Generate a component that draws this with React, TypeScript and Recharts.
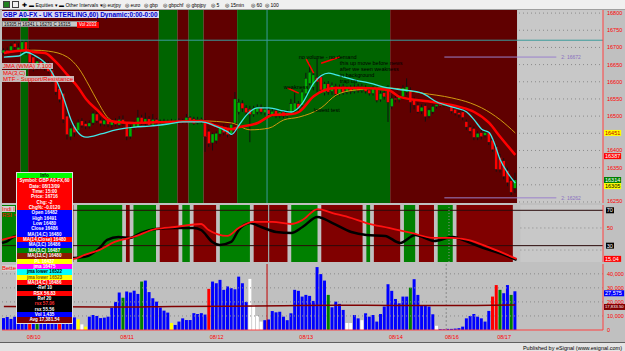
import React from 'react';
import { ComposedChart, Bar, Line, XAxis, YAxis, ReferenceArea, ReferenceLine, ReferenceDot, Cell } from 'recharts';

const FONT = "'Liberation Sans', Arial, sans-serif";
const SLOTS = 161; // 138 hourly bars + empty space on the right

// GBP A0-FX, 60 min bars, 08/10 - 08/17
const open = [
  16684, 16692, 16690, 16712, 16692, 16690, 16716, 16692, 16672, 16642,
  16660, 16640, 16654, 16634, 16610, 16580, 16566, 16500, 16440, 16470,
  16458, 16486, 16478, 16470, 16480, 16506, 16488, 16476, 16490, 16474,
  16486, 16474, 16490, 16478, 16440, 16466, 16470, 16496, 16478, 16492,
  16474, 16490, 16482, 16484, 16482, 16486, 16484, 16486, 16482, 16484,
  16496, 16492, 16480, 16490, 16484, 16456, 16422, 16428, 16448, 16468,
  16462, 16448, 16480, 16512, 16538, 16524, 16520, 16505, 16512, 16526,
  16510, 16518, 16504, 16516, 16500, 16512, 16500, 16510, 16514, 16536,
  16532, 16565, 16595, 16585, 16612, 16614, 16568, 16594, 16572, 16586,
  16566, 16586, 16570, 16582, 16572, 16586, 16574, 16584, 16576, 16566,
  16580, 16548, 16568, 16580, 16528, 16552, 16548, 16556, 16570, 16576,
  16548, 16532, 16514, 16530, 16500, 16512, 16528, 16534, 16530, 16532,
  16530, 16520, 16510, 16512, 16484, 16468, 16464, 16438, 16452, 16444,
  16452, 16430, 16410, 16380, 16370, 16342, 16312, 16290,
];
const high = [
  16698, 16700, 16712, 16718, 16712, 16721, 16722, 16698, 16680, 16668,
  16666, 16664, 16660, 16640, 16616, 16588, 16572, 16506, 16474, 16478,
  16490, 16494, 16486, 16488, 16514, 16512, 16496, 16496, 16498, 16492,
  16494, 16500, 16502, 16484, 16474, 16486, 16518, 16504, 16510, 16500,
  16506, 16494, 16490, 16492, 16490, 16492, 16490, 16494, 16492, 16506,
  16500, 16498, 16498, 16496, 16490, 16462, 16452, 16456, 16474, 16476,
  16470, 16484, 16570, 16550, 16546, 16532, 16530, 16530, 16534, 16534,
  16528, 16526, 16522, 16522, 16520, 16518, 16518, 16550, 16568, 16544,
  16578, 16626, 16654, 16632, 16668, 16622, 16600, 16602, 16598, 16594,
  16592, 16594, 16588, 16590, 16592, 16594, 16594, 16590, 16584, 16588,
  16586, 16574, 16578, 16590, 16560, 16560, 16564, 16590, 16610, 16584,
  16556, 16540, 16534, 16536, 16524, 16534, 16540, 16538, 16538, 16536,
  16534, 16526, 16516, 16518, 16490, 16474, 16470, 16456, 16460, 16460,
  16458, 16436, 16416, 16390, 16378, 16350, 16318, 16335,
];
const low = [
  16678, 16680, 16686, 16695, 16688, 16684, 16678, 16650, 16630, 16634,
  16636, 16632, 16624, 16596, 16562, 16540, 16480, 16432, 16430, 16440,
  16452, 16466, 16462, 16464, 16474, 16480, 16470, 16470, 16468, 16466,
  16470, 16468, 16472, 16430, 16434, 16460, 16464, 16474, 16470, 16468,
  16468, 16474, 16476, 16478, 16478, 16480, 16478, 16478, 16478, 16478,
  16480, 16474, 16476, 16478, 16396, 16410, 16400, 16420, 16440, 16444,
  16438, 16442, 16474, 16505, 16512, 16500, 16424, 16498, 16505, 16505,
  16502, 16500, 16498, 16494, 16494, 16494, 16494, 16504, 16508, 16514,
  16526, 16560, 16590, 16575, 16570, 16568, 16560, 16562, 16562, 16556,
  16560, 16562, 16564, 16564, 16566, 16568, 16568, 16566, 16560, 16560,
  16540, 16542, 16548, 16483, 16520, 16540, 16540, 16550, 16562, 16510,
  16520, 16508, 16506, 16484, 16494, 16506, 16522, 16526, 16526, 16526,
  16508, 16502, 16496, 16488, 16460, 16450, 16430, 16430, 16432, 16438,
  16416, 16396, 16338, 16336, 16316, 16296, 16270, 16276,
];
const close = [
  16692, 16686, 16704, 16701, 16700, 16716, 16684, 16656, 16636, 16660,
  16642, 16656, 16630, 16602, 16570, 16548, 16490, 16446, 16465, 16452,
  16482, 16472, 16470, 16480, 16508, 16486, 16478, 16488, 16476, 16486,
  16476, 16490, 16478, 16440, 16466, 16480, 16496, 16480, 16492, 16474,
  16490, 16480, 16484, 16482, 16486, 16484, 16486, 16482, 16488, 16496,
  16486, 16478, 16490, 16484, 16440, 16420, 16448, 16450, 16468, 16452,
  16446, 16476, 16550, 16540, 16522, 16510, 16505, 16522, 16526, 16512,
  16520, 16506, 16514, 16500, 16512, 16500, 16510, 16536, 16538, 16522,
  16570, 16610, 16628, 16620, 16600, 16576, 16594, 16570, 16590, 16564,
  16584, 16570, 16580, 16572, 16584, 16574, 16586, 16572, 16566, 16580,
  16546, 16566, 16556, 16540, 16552, 16548, 16556, 16582, 16585, 16540,
  16532, 16512, 16526, 16498, 16518, 16528, 16534, 16530, 16534, 16530,
  16514, 16508, 16504, 16496, 16468, 16456, 16438, 16450, 16440, 16452,
  16424, 16402, 16345, 16344, 16324, 16306, 16278, 16314,
];
const volume = [
  8500, 9300, 7900, 9500, 10000, 11000, 9000, 12000, 10000, 11000,
  9000, 10000, 12000, 9000, 11000, 13000, 10000, 9000, 8000, 9000,
  7600, 4000, 2400, 9500, 10700, 10000, 8500, 8800, 9500, 15700,
  20000, 26700, 23000, 27400, 26700, 28000, 25700, 34500, 35200, 27000,
  22600, 20200, 16000, 13800, 12400, 5000, 3600, 6000, 8300, 7100,
  7100, 12000, 11400, 12000, 11000, 29300, 34500, 33300, 35700, 28600,
  31000, 29800, 29000, 38000, 33300, 20000, 36400, 17800, 10000, 6000,
  7000, 7500, 13500, 12600, 13000, 9500, 7000, 11900, 28600, 27900,
  23800, 25000, 24300, 20700, 44800, 39800, 35200, 25000, 16200, 20200,
  18600, 14300, 5000, 5000, 10700, 8300, 7000, 11900, 9500, 10700,
  6000, 11400, 16700, 32600, 27900, 22100, 19000, 23800, 23800, 30200,
  36200, 25000, 17100, 17100, 16700, 11200, 3000, 600, 500, 800,
  800, 1000, 1300, 2400, 8300, 10000, 11400, 9500, 8300, 6000,
  13600, 23800, 32000, 28600, 26200, 32000, 25000, 27575,
];
// b blue, g green, r red, y yellow, w white
const volColorCodes = [
  'bbbbbbb', 'r', 'b', 'g', 'bbbbb', 'r', 'bbbb', 'ywy', 'bbbbbbbbb', 'g', 'bbbb', 'g',
  'bbbbbbb', 'y', 'bbbbbbbbb', 'r', 'bbbbbbbbbb', 'wwww', 'bbbbbbbbbbbbbbbbb', 'g', 'bbbb',
  'ww', 'bb', 'w', 'bbbbbbbbbbbb', 'g', 'bbbbbb', 'w', 'bbbbbbbbbbbbbb', 'rr', 'g', 'bb', 'g', 'b',
].join('');

// moving averages, read at points along the curves: [bar, value]
const fastPts = [
  [0, 16672], [4, 16675], [6, 16686], [8, 16678], [12, 16643], [14, 16605], [16, 16553], [18, 16489],
  [20, 16451], [22, 16439], [26, 16448], [30, 16460], [35, 16468], [39, 16471], [44, 16477], [48, 16483],
  [53, 16483], [56, 16474], [60, 16454], [61, 16447], [63, 16474], [65, 16503], [68, 16524], [71, 16524],
  [75, 16515], [77, 16512], [80, 16538], [83, 16596], [87, 16625], [89, 16620], [94, 16605], [98, 16596],
  [103, 16582], [107, 16576], [112, 16567], [116, 16541], [121, 16524], [124, 16512], [126, 16489],
  [128, 16462], [130, 16452], [131, 16432], [133, 16372], [135, 16334], [137, 16305],
];
const midPts = [
  [0, 16684], [6, 16692], [8, 16687], [11, 16684], [14, 16657], [17, 16620], [20, 16582], [22, 16550],
  [25, 16518], [28, 16488], [31, 16482], [35, 16480], [44, 16483], [53, 16486], [57, 16471], [61, 16462],
  [63, 16468], [68, 16480], [72, 16503], [77, 16506], [79, 16512], [83, 16558], [86, 16576], [89, 16582],
  [96, 16582], [103, 16576], [106, 16556], [115, 16541], [122, 16527], [126, 16512], [130, 16480],
  [133, 16439], [137, 16387],
];
const slowPts = [
  [0, 16684], [8, 16692], [12, 16689], [17, 16672], [20, 16640], [23, 16585], [25, 16545], [28, 16494],
  [30, 16483], [35, 16480], [44, 16483], [53, 16486], [61, 16480], [66, 16460], [71, 16465], [75, 16489],
  [79, 16497], [85, 16524], [89, 16561], [94, 16576], [103, 16582], [112, 16567], [120, 16553],
  [125, 16538], [128, 16524], [133, 16489], [137, 16451],
];
const rsiPts = [
  [0, 33.1], [1, 34.2], [3, 39.8], [5, 42], [8, 38], [11, 30], [14, 22], [17, 17], [19, 16.1], [22, 17.3],
  [26, 27.4], [28, 36.5], [31, 39.8], [34, 38.7], [37, 44.4], [41, 48.9], [46, 50], [51, 50], [53, 47.7],
  [56, 34.2], [58, 30.8], [61, 34.2], [63, 47.7], [66, 55.6], [69, 51.1], [73, 45.5], [77, 44.4], [80, 51.1],
  [84, 62.4], [88, 55.6], [93, 45.5], [97, 42.1], [102, 41], [106, 33.1], [110, 42.1], [115, 35.3],
  [120, 39.8], [124, 34.2], [128, 27.4], [133, 20.7], [137, 13.9],
];
const rsiSigPts = [
  [0, 36.5], [3, 39.8], [6, 42], [10, 36], [14, 27], [17, 20], [19, 15], [22, 19.5], [26, 25.2], [30, 34.2],
  [35, 39.8], [41, 48.9], [46, 51.1], [53, 54.5], [55, 47.7], [60, 41], [63, 50], [67, 56.8], [72, 56.8],
  [77, 54.5], [80, 59], [84, 71.4], [88, 66.9], [93, 61.3], [97, 55.6], [103, 50], [109, 44.4], [115, 38.7],
  [120, 38.7], [124, 36.5], [130, 27.4], [137, 15.04],
];
const volAvgPts = [
  [0, 16800], [15, 16500], [30, 16300], [45, 16700], [60, 17000], [75, 17300], [90, 17600], [105, 17500],
  [120, 17400], [137, 17833.5],
];

// background state bands [first bar, last bar, g/r]
const mainBands = [
  [0, 4, 'r'], [5, 6, 'g'], [7, 41, 'r'], [42, 46, 'g'], [47, 49, 'r'], [50, 53, 'g'], [54, 62, 'r'],
  [63, 103, 'g'], [104, 137, 'r'],
];
const rsiBands = [
  [0, 17, 'g'], [18, 19, 'r'], [20, 32, 'g'], [33, 34, 'r'], [35, 41, 'g'], [42, 47, 'r'], [48, 50, 'g'],
  [51, 57, 'r'], [58, 66, 'g'], [67, 76, 'r'], [77, 84, 'g'], [85, 96, 'r'], [97, 98, 'g'], [99, 106, 'r'],
  [107, 110, 'g'], [111, 115, 'r'], [116, 120, 'g'], [121, 136, 'r'], [137, 137, 'g'],
];

const dayTicks = [8, 33, 57, 81, 105, 120, 134];
const dayLabels = ['08/10', '08/11', '08/12', '08/13', '08/14', '08/16', '08/17'];
const priceTicks = [16250, 16300, 16350, 16400, 16450, 16500, 16550, 16600, 16650, 16700, 16750, 16800];
const priceTicksUnderFlags = [16300, 16450];
const rsiTicks = [70, 50, 30];
const volTicks = [0, 10000, 20000, 30000, 40000];

const notes = [
  { i: 79, p: 16672, text: 'no volume - no demand' },
  { i: 90, p: 16654, text: 'this up move before news' },
  { i: 90, p: 16637, text: 'after we seen weakness' },
  { i: 90, p: 16620, text: 'in background' },
  { i: 90, p: 16602, text: 'trap up' },
  { i: 75, p: 16585, text: 'weakness' },
  { i: 83, p: 16518, text: 'lowest test' },
];
const noteLines = [
  [81, 16666, 83, 16625],
  [85, 16654, 90, 16672],
  [76, 16582, 79, 16567],
];

const dataWindow = [
  ['#00ff00', '#000', 'Info'],
  ['#ff0000', '#fff', 'Symbol: GBP A0-FX,60'],
  ['#ff0000', '#fff', 'Date: 08/13/09'],
  ['#ff0000', '#fff', 'Time: 15:00'],
  ['#ff0000', '#fff', 'Price: 16716'],
  ['#ff0000', '#fff', 'Chg: -2'],
  ['#ff0000', '#fff', 'Chg%: -0.0120'],
  ['#0000ff', '#fff', 'Open 16482'],
  ['#0000ff', '#fff', 'High 16491'],
  ['#0000ff', '#fff', 'Low 16480'],
  ['#0000ff', '#fff', 'Close 16486'],
  ['#0000ff', '#fff', 'MA(14,C) 16480'],
  ['#ff0000', '#fff', 'MA(14,Close) 16480'],
  ['#0000ff', '#fff', 'MA(3,C) 16486'],
  ['#008000', '#fff', 'MA(3,C) 16487'],
  ['#8b1a00', '#fff', 'MA(13,C) 16480'],
  ['#ffff00', '#fff', 'PL 16437'],
  ['#ff00ff', '#fff', 'jma 16475'],
  ['#00ffff', '#000', 'jma lower 16522'],
  ['#ffff00', '#806000', 'jma lower 16523'],
  ['#ff0000', '#fff', 'MA(14,C) 16486'],
  ['#000000', '#fff', '-Ref 10'],
  ['#ff0000', '#fff', 'RSX 56.83'],
  ['#000000', '#fff', 'Ref 20'],
  ['#000000', '#ff3030', 'rsx 57.06'],
  ['#000000', '#fff', 'rsx 55.56'],
  ['#0000ff', '#fff', 'Vol 1,435'],
  ['#800000', '#fff', 'Avg 17,381.54'],
];

const toolbarItems = ['eurjpy', 'euro', 'gbp', 'gbpchf', 'gbpjpy', '5', '15min', '60', '100'];

const VOL_COLORS: Record<string, string> = { b: '#0000ff', g: '#008000', r: '#ff0000', y: '#ffff00', w: '#ffffff' };
const MAIN_BG: Record<string, string> = { r: '#600000', g: '#006400' };
const RSI_BG: Record<string, string> = { r: '#800000', g: '#008000' };
const FUTURE_BG = '#c8c8c8';

const toMap = (pts: number[][]) => new Map(pts.map(([k, v]) => [k, v]));
const fastMap = toMap(fastPts);
const midMap = toMap(midPts);
const slowMap = toMap(slowPts);
const rsiMap = toMap(rsiPts);
const rsiSigMap = toMap(rsiSigPts);
const avgMap = toMap(volAvgPts);
const N = close.length;

const rows = Array.from({ length: SLOTS }, (_, i) => {
  const has = i < N;
  return {
    i,
    range: has ? [low[i], high[i]] : null,
    o: has ? open[i] : null,
    c: has ? close[i] : null,
    vol: has ? volume[i] : null,
    fast: fastMap.get(i) ?? null,
    mid: midMap.get(i) ?? null,
    slow: slowMap.get(i) ?? null,
    rsi: rsiMap.get(i) ?? null,
    rsiSig: rsiSigMap.get(i) ?? null,
    avg: avgMap.get(i) ?? null,
  };
});

const Candle = (props: any) => {
  const { x, y, width, height, payload } = props;
  if (!payload || !payload.range) return null;
  const [lo, hi] = payload.range;
  const top = Math.min(y, y + height);
  const h = Math.abs(height);
  const ppu = hi > lo ? h / (hi - lo) : 0;
  const bTop = top + (hi - Math.max(payload.o, payload.c)) * ppu;
  const bH = Math.max(1, Math.abs(payload.o - payload.c) * ppu);
  const up = payload.c >= payload.o;
  const cx = x + width / 2;
  return (
    <g>
      <line x1={cx} x2={cx} y1={top} y2={top + h} stroke="#111" strokeWidth={1} />
      <rect x={x} y={bTop} width={width} height={bH} fill={up ? '#00b000' : '#ff0000'} stroke="#1a1a1a" strokeWidth={0.4} />
    </g>
  );
};

// value flag drawn just right of the axis line
const ValueBox = (props: any) => {
  const { viewBox, text, bg, fg, fs = 5.5, dy = 0 } = props;
  if (!viewBox) return null;
  const bx = viewBox.x + viewBox.width + 1;
  const cy = viewBox.y + dy;
  const w = text.length * fs * 0.55 + 2;
  return (
    <g>
      <rect x={bx} y={cy - 3} width={w} height={6} fill={bg} />
      <text x={bx + 1} y={cy + fs * 0.36} fontSize={fs} fill={fg} fontFamily={FONT}>{text}</text>
    </g>
  );
};

const RedTick = (props: any) => {
  const { x, y, payload, fmt, hidden = [], maxY = 9999 } = props;
  if (hidden.includes(payload.value)) return null;
  return (
    <text x={x + 2} y={Math.min(y + 2, maxY)} fontSize={5.5} fill="#ff0000" fontFamily={FONT}>
      {fmt ? fmt(payload.value) : payload.value}
    </text>
  );
};

const RsiTick = (props: any) => {
  const { x, y, payload } = props;
  if (payload.value === 50) {
    return <text x={x + 2} y={y + 2} fontSize={5.5} fill="#ff0000" fontFamily={FONT}>50</text>;
  }
  return (
    <g>
      <rect x={x + 1} y={y - 3} width={8} height={6} fill="#000" />
      <text x={x + 1.8} y={y + 2} fontSize={5.5} fill="#fff" fontFamily={FONT}>{payload.value}</text>
    </g>
  );
};

const DayTick = (props: any) => {
  const { x, y, payload } = props;
  const k = dayTicks.indexOf(payload.value);
  return (
    <text x={x} y={y + 7} fontSize={5.5} fill="#ff0000" textAnchor="middle" fontFamily={FONT}>
      {dayLabels[k]}
    </text>
  );
};

const fmtVol = (v: number) => v.toLocaleString('en-US');

const label = (text: string, style: React.CSSProperties) => (
  <div style={{ position: 'absolute', fontFamily: FONT, fontSize: 6, lineHeight: '6px', whiteSpace: 'nowrap', ...style }}>{text}</div>
);

export default function App() {
  const lastClose = close[N - 1];
  const lastFast = fastPts[fastPts.length - 1][1];
  const lastMid = midPts[midPts.length - 1][1];
  const lastSlow = slowPts[slowPts.length - 1][1];
  const lastSig = rsiSigPts[rsiSigPts.length - 1][1];
  const lastAvg = volAvgPts[volAvgPts.length - 1][1];

  return (
    <div style={{ position: 'fixed', left: 0, top: 0, width: 625, height: 351, background: '#c0c0c0', overflow: 'hidden' }}>
      {/* toolbar */}
      <div style={{ position: 'absolute', left: 0, top: 0, width: 625, height: 10, background: '#f0f0f0', borderBottom: '1px solid #a0a0a0', boxSizing: 'border-box' }}>
        <div style={{ position: 'absolute', left: 3, top: 1, width: 7, height: 7, background: '#208020', border: '1px solid #404040', boxSizing: 'border-box' }} />
        <div style={{ position: 'absolute', left: 12, top: 1, width: 7, height: 7, border: '1px solid #404040', boxSizing: 'border-box' }} />
        {label('✚', { left: 22, top: 2, fontSize: 6 })}
        {label('▬ Equities ▾', { left: 29, top: 2, fontSize: 5 })}
        {label('▬ Other Intervals ▾', { left: 59, top: 2, fontSize: 5 })}
        {toolbarItems.map((t, k) => label(`◎ ${t}`, { left: 102 + [0, 23, 42, 61, 84, 109, 123, 149, 163][k], top: 2, fontSize: 5 }))}
      </div>

      {/* price panel */}
      <div style={{ position: 'absolute', left: 0, top: 10 }}>
        <ComposedChart width={625} height={193} data={rows} margin={{ top: 0, right: 0, bottom: 0, left: 2 }}>
          <XAxis dataKey="i" type="category" hide />
          <YAxis orientation="right" width={22} domain={[16247, 16809]} ticks={priceTicks} interval={0} allowDataOverflow
            axisLine={{ stroke: '#ff4040' }} tickLine={false} tickSize={0} tick={<RedTick hidden={priceTicksUnderFlags} maxY={192.5} />} />
          {mainBands.map(([a, b, c]) => (
            <ReferenceArea key={`m${a}`} x1={a as number} x2={b as number} fill={MAIN_BG[c as string]} fillOpacity={1} stroke="none" />
          ))}
          <ReferenceArea x1={N} x2={SLOTS - 1} fill={FUTURE_BG} fillOpacity={1} stroke="none" />
          {priceTicks.map((t) => (
            <ReferenceLine key={`g${t}`} segment={[{ x: N, y: t }, { x: SLOTS - 1, y: t }]} stroke="#8a8a8a" strokeDasharray="1 3" />
          ))}
          <ReferenceLine x={71} position="start" stroke="#3a9a9a" />
          <ReferenceLine y={16721} stroke="#3a9a9a" />
          <Bar dataKey="range" barSize={3} isAnimationActive={false} shape={(p: any) => <Candle {...p} />} />
          <Line dataKey="slow" type="monotone" stroke="#d09a10" strokeWidth={1} dot={false} connectNulls isAnimationActive={false} />
          <Line dataKey="mid" type="monotone" stroke="#ff0000" strokeWidth={2.5} dot={false} connectNulls isAnimationActive={false} />
          <Line dataKey="fast" type="monotone" stroke="#40e8e8" strokeWidth={1.3} dot={false} connectNulls isAnimationActive={false} />
          <ReferenceLine segment={[{ x: 118, y: 16672 }, { x: 148, y: 16672 }]} stroke="#9a80cc"
            label={{ value: '2: 16672', position: 'right', fill: '#8a70c0', fontSize: 5, fontFamily: FONT }} />
          <ReferenceLine segment={[{ x: 118, y: 16262 }, { x: 148, y: 16262 }]} stroke="#9a80cc"
            label={{ value: '2: 16262', position: 'right', fill: '#8a70c0', fontSize: 5, fontFamily: FONT }} />
          {noteLines.map(([a, p, b, q], k) => (
            <ReferenceLine key={`nl${k}`} segment={[{ x: a, y: p }, { x: b, y: q }]} stroke="#ff0000" strokeWidth={1.5} />
          ))}
          {notes.map((n) => (
            <ReferenceDot key={n.text} x={n.i} y={n.p} r={0} fill="none" stroke="none"
              label={{ value: n.text, position: 'right', offset: 0, fontSize: 5.5, fill: '#000', fontFamily: FONT }} />
          ))}
          <ReferenceLine y={lastSlow} stroke="none" label={<ValueBox text={String(lastSlow)} bg="#ffff00" fg="#c00000" />} />
          <ReferenceLine y={lastMid} stroke="none" label={<ValueBox text={String(lastMid)} bg="#ff0000" fg="#ffffff" dy={1.2} />} />
          <ReferenceLine y={lastClose} stroke="none" label={<ValueBox text={String(lastClose)} bg="#008000" fg="#ffffff" />} />
          <ReferenceLine y={lastFast} stroke="none" label={<ValueBox text={String(lastFast)} bg="#ffff00" fg="#000000" dy={3} />} />
        </ComposedChart>
      </div>

      {/* RSI panel */}
      <div style={{ position: 'absolute', left: 0, top: 205 }}>
        <ComposedChart width={625} height={57} data={rows} margin={{ top: 0, right: 0, bottom: 0, left: 2 }}>
          <XAxis dataKey="i" type="category" hide />
          <YAxis orientation="right" width={22} domain={[11.5, 76]} ticks={rsiTicks} interval={0} allowDataOverflow
            axisLine={{ stroke: '#ff4040' }} tickLine={false} tickSize={0} tick={<RsiTick />} />
          {rsiBands.map(([a, b, c]) => (
            <ReferenceArea key={`r${a}`} x1={a as number} x2={b as number} fill={RSI_BG[c as string]} fillOpacity={1} stroke="none" />
          ))}
          <ReferenceArea x1={N} x2={SLOTS - 1} fill={FUTURE_BG} fillOpacity={1} stroke="none" />
          <ReferenceLine y={70} stroke="#2a0a0a" />
          <ReferenceLine y={30} stroke="#2a0a0a" />
          <ReferenceLine segment={[{ x: N, y: 50 }, { x: SLOTS - 1, y: 50 }]} stroke="#8a8a8a" strokeDasharray="1 3" />
          <ReferenceLine segment={[{ x: N, y: 25 }, { x: SLOTS - 1, y: 25 }]} stroke="#8a8a8a" strokeDasharray="1 3" />
          <ReferenceLine x={71} position="start" stroke="#a0c8c8" />
          <ReferenceLine x={119} position="start" stroke="#909090" strokeDasharray="1 2" />
          <Line dataKey="rsi" type="monotone" stroke="#000000" strokeWidth={2.5} dot={false} connectNulls isAnimationActive={false} />
          <Line dataKey="rsiSig" type="monotone" stroke="#ff1010" strokeWidth={1.8} dot={false} connectNulls isAnimationActive={false} />
          <ReferenceLine y={lastSig} stroke="none" ifOverflow="visible" label={<ValueBox text={lastSig.toFixed(2)} bg="#ff0000" fg="#ffffff" />} />
        </ComposedChart>
      </div>

      {/* volume panel */}
      <div style={{ position: 'absolute', left: 0, top: 264 }}>
        <ComposedChart width={625} height={77} data={rows} margin={{ top: 0, right: 0, bottom: 0, left: 2 }}>
          <XAxis dataKey="i" type="category" height={11} ticks={dayTicks} interval={0} tickLine={false} tickSize={0}
            axisLine={{ stroke: '#ff4040' }} tick={<DayTick />} />
          <YAxis orientation="right" width={22} domain={[0, 47000]} ticks={volTicks} interval={0} allowDataOverflow
            axisLine={{ stroke: '#ff4040' }} tickLine={false} tickSize={0} tick={<RedTick fmt={fmtVol} />} />
          {volTicks.slice(1).map((t) => (
            <ReferenceLine key={`v${t}`} y={t} stroke="#8a8a8a" strokeDasharray="1 3" />
          ))}
          <ReferenceLine x={71} position="start" stroke="#c00000" />
          <ReferenceLine x={119} position="start" stroke="#8a8a8a" strokeDasharray="2 2" />
          <Bar dataKey="vol" barSize={3} isAnimationActive={false}>
            {rows.map((r) => (
              <Cell key={r.i} fill={VOL_COLORS[volColorCodes[r.i]] ?? 'none'} />
            ))}
          </Bar>
          <Line dataKey="avg" type="monotone" stroke="#800000" strokeWidth={1.5} dot={false} connectNulls isAnimationActive={false} />
          <ReferenceLine y={volume[N - 1]} stroke="none" label={<ValueBox text={fmtVol(volume[N - 1])} bg="#0000ff" fg="#ffffff" dy={2} />} />
          <ReferenceLine y={lastAvg} stroke="none" label={<ValueBox text={lastAvg.toLocaleString('en-US', { minimumFractionDigits: 2 })} bg="#800000" fg="#ffffff" fs={4.2} dy={2} />} />
        </ComposedChart>
      </div>

      {/* panel captions */}
      {label('GBP A0-FX - UK STERLING,60) Dynamic;0:00-0:00', { left: 2, top: 11, fontSize: 6.5, lineHeight: '7px', color: '#0000d0', fontWeight: 'bold', background: '#d8d8f0', padding: '0 1px' })}
      <div style={{ position: 'absolute', left: 2, top: 21, width: 95, height: 6, background: '#c8c8c8', border: '1px solid #909090', boxSizing: 'border-box' }} />
      {label('16305  H 16341  L 16270  C 16315', { left: 4, top: 21.5, fontSize: 4.5, color: '#000' })}
      {label('Vol 2033', { left: 77, top: 21.5, fontSize: 4.5, color: '#fff', background: '#ff0000', padding: '0 2px' })}
      {label('JMA (WMA) 7,100', { left: 2, top: 63, color: '#ff0000', background: 'rgba(215,215,215,0.85)', padding: '0 1px' })}
      {label('MA(3,C)', { left: 2, top: 70, color: '#ff0000', background: 'rgba(215,215,215,0.85)', padding: '0 1px' })}
      {label('MTF - Support/Resistance', { left: 2, top: 76, color: '#ff0000', background: 'rgba(215,215,215,0.85)', padding: '0 1px' })}
      {label('Indi I', { left: 2, top: 206, color: '#ff0000', background: '#d0d0d0' })}
      {label('RSI =', { left: 2, top: 212, color: '#ff0000' })}
      {label('Better', { left: 2, top: 265, color: '#ff0000', background: '#d0d0d0' })}

      {/* data window */}
      <div style={{ position: 'absolute', left: 16, top: 172, width: 57, border: '1px solid #e0e0e0', boxSizing: 'border-box' }}>
        {dataWindow.map(([bg, fg, t], k) => (
          <div key={k} style={{ height: 5.35, background: bg, color: fg, fontFamily: FONT, fontSize: 4.6, lineHeight: '5.35px', textAlign: 'center', fontWeight: 'bold', whiteSpace: 'nowrap', overflow: 'hidden' }}>{t}</div>
        ))}
      </div>

      {/* footer */}
      <div style={{ position: 'absolute', left: 0, top: 342, width: 625, height: 9, background: '#e4e4e4', borderTop: '1px solid #606060', boxSizing: 'border-box' }}>
        {label('Published by eSignal (www.esignal.com)', { right: 3, top: 1.5, fontSize: 5.5, color: '#000' })}
      </div>
    </div>
  );
}
